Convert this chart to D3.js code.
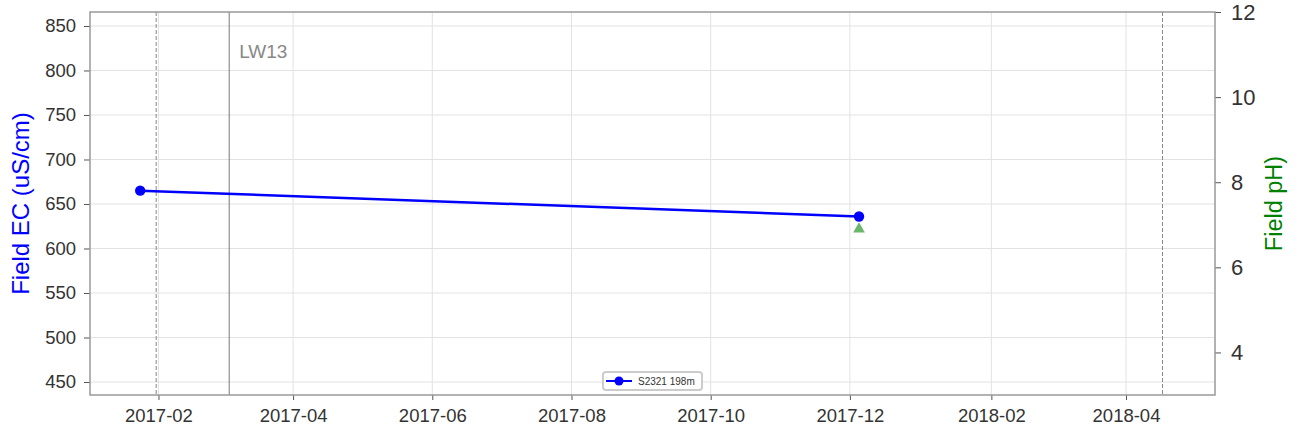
<!DOCTYPE html>
<html>
<head>
<meta charset="utf-8">
<script src="https://cdn.jsdelivr.net/npm/d3@7"></script>
<style>
  body { margin: 0; background: #fff; }
  svg text { font-family: "Liberation Sans", Arial, sans-serif; }
</style>
</head>
<body>
<svg id="chart" width="1299" height="437"></svg>
<script>
// data
var ecDates = ['2017-01-24', '2017-12-05'];
var ecValues = [665, 636];
var phDates = ['2017-12-05'];
var phValues = [6.9];
var markerDates = ['2017-01-31', '2018-04-17']; // dashed
var eventDates = ['2017-03-04'];               // solid
var eventLabels = ['LW13'];
var ecTicks = [450, 500, 550, 600, 650, 700, 750, 800, 850];
var phTicks = [4, 6, 8, 10, 12];
var seriesName = 'S2321 198m';

(function(){
    var svg = d3.select('#chart'),
        margin = {left: 90, right: 84, top: 12, bottom: 42},
        width = +svg.attr('width') - margin.left - margin.right,
        height = +svg.attr('height') - margin.top - margin.bottom;

    var parse = d3.timeParse('%Y-%m-%d');

    var x = d3.scaleTime()
        .domain([parse('2017-01-02'), parse('2018-05-10')])
        .range([0, width]);
    var yEc = d3.scaleLinear().domain([435.4, 865.7]).range([height, 0]);
    var yPh = d3.scaleLinear().domain([3, 12]).range([height, 0]);

    var g = svg.append('g')
        .attr('transform', 'translate(' + margin.left + ',' + margin.top + ')');

    var xTicks = d3.timeMonth.range(parse('2017-02-01'), parse('2018-05-01'), 2);

    // grid
    g.append('g').selectAll('line')
        .data(ecTicks)
        .enter().append('line')
        .attr('x1', 0).attr('x2', width)
        .attr('y1', function(d) { return yEc(d); })
        .attr('y2', function(d) { return yEc(d); })
        .attr('stroke', '#e2e2e2')
        .attr('stroke-width', 1);
    g.append('g').selectAll('line')
        .data(xTicks)
        .enter().append('line')
        .attr('y1', 0).attr('y2', height)
        .attr('x1', function(d) { return x(d); })
        .attr('x2', function(d) { return x(d); })
        .attr('stroke', '#e2e2e2')
        .attr('stroke-width', 1);

    // marker lines
    g.append('g').selectAll('line')
        .data(markerDates)
        .enter().append('line')
        .attr('y1', 0).attr('y2', height)
        .attr('x1', function(d) { return x(parse(d)); })
        .attr('x2', function(d) { return x(parse(d)); })
        .attr('stroke', '#888')
        .attr('stroke-width', 1)
        .attr('stroke-dasharray', '4,2');
    g.append('g').selectAll('line')
        .data(eventDates)
        .enter().append('line')
        .attr('y1', 0).attr('y2', height)
        .attr('x1', function(d) { return x(parse(d)); })
        .attr('x2', function(d) { return x(parse(d)); })
        .attr('stroke', '#777')
        .attr('stroke-width', 1);
    g.append('g').selectAll('text')
        .data(eventDates)
        .enter().append('text')
        .attr('x', function(d) { return x(parse(d)) + 10; })
        .attr('y', 46)
        .attr('fill', '#888')
        .style('font-size', '19px')
        .text(function(d, i) { return eventLabels[i]; });

    // EC series
    var ecData = ecDates.map(function(d, i) { return {date: parse(d), value: ecValues[i]}; });
    var line = d3.line()
        .x(function(d) { return x(d.date); })
        .y(function(d) { return yEc(d.value); });
    g.append('path')
        .datum(ecData)
        .attr('d', line)
        .attr('fill', 'none')
        .attr('stroke', '#0000ff')
        .attr('stroke-width', 2.5);
    g.append('g').selectAll('circle')
        .data(ecData)
        .enter().append('circle')
        .attr('cx', function(d) { return x(d.date); })
        .attr('cy', function(d) { return yEc(d.value); })
        .attr('r', 5.2)
        .attr('fill', '#0000ff');

    // pH series
    var phData = phDates.map(function(d, i) { return {date: parse(d), value: phValues[i]}; });
    g.append('g').selectAll('path')
        .data(phData)
        .enter().append('path')
        .attr('d', d3.symbol().type(d3.symbolTriangle).size(60))
        .attr('transform', function(d) {
            return 'translate(' + x(d.date) + ',' + yPh(d.value) + ')';
        })
        .attr('fill', '#6ab76a');

    // axes
    function styleAxis(sel, size) {
        sel.select('.domain').remove();
        sel.selectAll('.tick line').attr('stroke', '#555').attr('stroke-width', 1);
        sel.selectAll('.tick text').attr('fill', '#333').style('font-size', size);
    }
    g.append('g')
        .call(d3.axisLeft(yEc).tickValues(ecTicks).tickSize(6).tickPadding(8))
        .call(styleAxis, '18.5px');
    g.append('g')
        .attr('transform', 'translate(' + width + ',0)')
        .call(d3.axisRight(yPh).tickValues(phTicks).tickSize(6).tickPadding(10))
        .call(styleAxis, '22px');
    g.append('g')
        .attr('transform', 'translate(0,' + height + ')')
        .call(d3.axisBottom(x).tickValues(xTicks).tickFormat(d3.timeFormat('%Y-%m')).tickSize(5).tickPadding(9))
        .call(styleAxis, '18.5px');

    // frame
    g.append('rect')
        .attr('width', width).attr('height', height)
        .attr('fill', 'none')
        .attr('stroke', '#999')
        .attr('stroke-width', 1.5);

    // axis labels
    svg.append('text')
        .attr('transform', 'translate(29,' + (margin.top + height / 2) + ') rotate(-90)')
        .attr('text-anchor', 'middle')
        .attr('fill', '#0000ff')
        .style('font-size', '24px')
        .text('Field EC (uS/cm)');
    svg.append('text')
        .attr('transform', 'translate(1282,' + (margin.top + height / 2) + ') rotate(-90)')
        .attr('text-anchor', 'middle')
        .attr('fill', 'green')
        .style('font-size', '23.5px')
        .text('Field pH)');

    // legend
    var leg = g.append('g').attr('transform', 'translate(513,360)');
    leg.append('rect')
        .attr('width', 99).attr('height', 18)
        .attr('rx', 3)
        .attr('fill', '#fff')
        .attr('stroke', '#ccc')
        .attr('stroke-width', 2);
    leg.append('line')
        .attr('x1', 3).attr('x2', 29).attr('y1', 9).attr('y2', 9)
        .attr('stroke', '#0000ff').attr('stroke-width', 2);
    leg.append('circle')
        .attr('cx', 16).attr('cy', 9).attr('r', 4.5)
        .attr('fill', '#0000ff');
    leg.append('text')
        .attr('x', 35).attr('y', 13)
        .attr('fill', '#333')
        .style('font-size', '10px')
        .text(seriesName);
})();
</script>
</body>
</html>
